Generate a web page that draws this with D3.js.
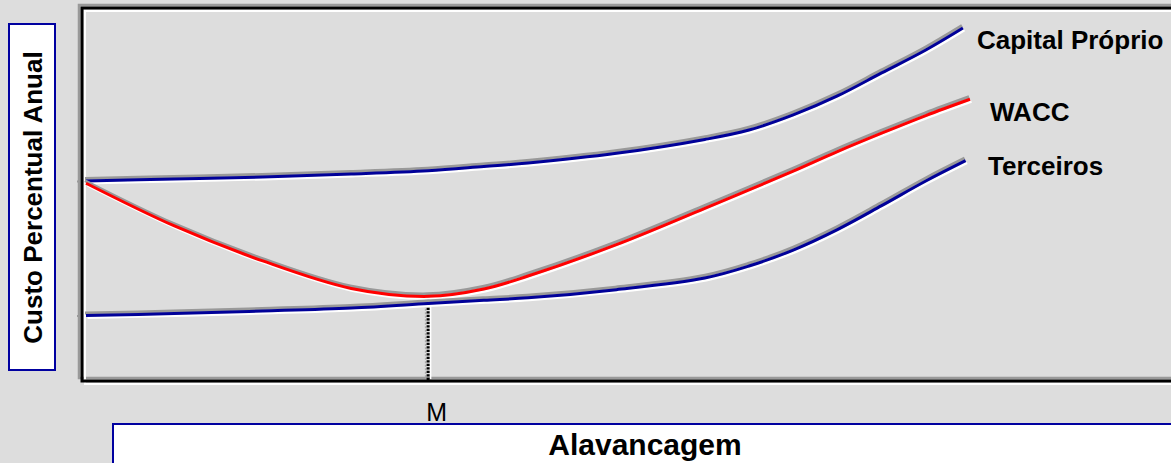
<!DOCTYPE html>
<html><head><meta charset="utf-8">
<script src="https://cdn.jsdelivr.net/npm/d3@7"></script>
<style>body{margin:0;background:#dddddd;overflow:hidden} svg{display:block}</style>
</head><body><svg id="c" width="1171" height="463"></svg>
<script>
// Leverage (x) and annual cost (y) values
const xCapital   = [0,10,20,30,38.7,45,50,60,70,75,80,85,90,95,99.2];
const capitalProprio = [15.00,15.13,15.27,15.47,15.69,15.97,16.20,16.85,17.78,18.41,19.42,20.69,22.23,23.77,25.24];
const xTerceiros = [0,10,20,30,38.7,45,50,60,70,75,80,85,90,95,99.5];
const terceiros  = [6.00,6.13,6.30,6.50,6.80,7.02,7.18,7.73,8.51,9.31,10.38,11.75,13.35,15.00,16.36];
const xWacc      = [0,10,20,30,38.7,45,50,60,70,75,80,85,90,95,100];
const wacc       = [14.85,11.99,9.65,7.81,7.28,7.77,8.64,10.74,13.17,14.40,15.66,16.97,18.20,19.38,20.47];
const seriesNames = ["Capital Próprio","WACC","Terceiros"];
const mLeverage = 38.7;
const mLabel = "M";
const yTitle = "Custo Percentual Anual";
const xTitle = "Alavancagem";

const svg = d3.select("#c");
const FONT = "'Liberation Sans', Arial, sans-serif";
const x = d3.scaleLinear().domain([0,100]).range([86,970]);
const y = d3.scaleLinear().domain([6,15]).range([315.5,181]);

// background
svg.append("rect").attr("width",1171).attr("height",463).attr("fill","#dddddd");

// plot frame (3D look: gray shadow up-left, white highlight down-right)
const frame = (dx,dy,color,w)=>svg.append("path")
  .attr("d",`M1200,${8+dy} H${82+dx} V${381+dy} H1200`)
  .attr("fill","none").attr("stroke",color).attr("stroke-width",w);
frame(-3,-3,"#999999",2.5);
frame(3,3,"#ffffff",2);
frame(0,0,"#000000",3);

// y ticks
svg.append("g").attr("transform","translate(80,0)")
  .call(d3.axisLeft(y).tickValues([capitalProprio[0],terceiros[0]]).tickSize(3).tickFormat(""))
  .call(g=>g.select(".domain").remove())
  .call(g=>g.selectAll("line").attr("stroke","#999999").attr("stroke-width",2));

// M marker dotted line
const mx = x(mLeverage);
const wAtM = y(wacc[xWacc.indexOf(mLeverage)]);
svg.append("line").attr("x1",mx-2.5).attr("x2",mx-2.5).attr("y1",wAtM+2).attr("y2",379)
  .attr("stroke","#aaaaaa").attr("stroke-width",1.5).attr("stroke-dasharray","2,1.5");
svg.append("line").attr("x1",mx+2.5).attr("x2",mx+2.5).attr("y1",wAtM+3).attr("y2",379)
  .attr("stroke","#ffffff").attr("stroke-width",1.5);
svg.append("line").attr("x1",mx).attr("x2",mx).attr("y1",wAtM+1).attr("y2",382)
  .attr("stroke","#000000").attr("stroke-width",3).attr("stroke-dasharray","2.2,1.3");

// M axis label
svg.append("g").attr("transform","translate(0,381)")
  .call(d3.axisBottom(x).tickValues([mLeverage]).tickSize(0).tickFormat(()=>mLabel))
  .call(g=>g.select(".domain").remove())
  .call(g=>g.selectAll("text").attr("y",39.5).attr("dy",null).attr("dx",8)
      .attr("font-family",FONT).attr("font-size",25).attr("fill","#000"));

// lines
const line = d3.line().x(d=>x(d[0])).y(d=>y(d[1])).curve(d3.curveCatmullRom.alpha(0.5));
const series = [
  {xs:xCapital, ys:capitalProprio, color:"#000099"},
  {xs:xWacc, ys:wacc, color:"#ff0000"},
  {xs:xTerceiros, ys:terceiros, color:"#000099"}
];
series.forEach(s=>{
  const pts = s.xs.map((v,i)=>[v,s.ys[i]]);
  svg.append("path").attr("d",line(pts)).attr("fill","none").attr("stroke","#999999")
    .attr("stroke-width",3).attr("transform","translate(-1,-2.5)");
  svg.append("path").attr("d",line(pts)).attr("fill","none").attr("stroke","#ffffff")
    .attr("stroke-width",2.5).attr("transform","translate(1.5,2.2)");
  svg.append("path").attr("d",line(pts)).attr("fill","none").attr("stroke",s.color)
    .attr("stroke-width",3);
});

// series labels
const labelPos = [[977,49],[990,121],[988,175]];
seriesNames.forEach((n,i)=>{
  svg.append("text").attr("x",labelPos[i][0]).attr("y",labelPos[i][1]).text(n)
    .attr("font-family",FONT).attr("font-weight","bold").attr("font-size",26).attr("fill","#000");
});

// y title box
svg.append("rect").attr("x",9).attr("y",24).attr("width",46).attr("height",346)
  .attr("fill","#ffffff").attr("stroke","#0000a0").attr("stroke-width",2);
svg.append("text").attr("transform","translate(42,197.5) rotate(-90)")
  .attr("text-anchor","middle").text(yTitle)
  .attr("font-family",FONT).attr("font-weight","bold").attr("font-size",26).attr("fill","#000");

// x title box
svg.append("rect").attr("x",113).attr("y",424).attr("width",1100).attr("height",80)
  .attr("fill","#ffffff").attr("stroke","#0000a0").attr("stroke-width",2);
svg.append("text").attr("x",645).attr("y",455).attr("text-anchor","middle").text(xTitle)
  .attr("font-family",FONT).attr("font-weight","bold").attr("font-size",30).attr("fill","#000");
</script></body></html>
